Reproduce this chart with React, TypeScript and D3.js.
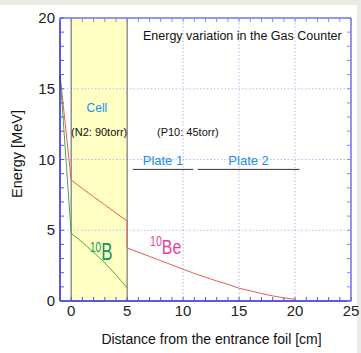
import React from 'react';
import * as d3 from 'd3';

// distance [cm] and energy [MeV]
const beDistance = [-1, 0, 1, 2, 3, 4, 5, 5, 6, 7, 8, 9, 10, 11, 12, 13, 14, 15, 16, 17, 18, 19, 20];
const beEnergy = [16, 8.55, 7.95, 7.37, 6.8, 6.22, 5.65, 3.75, 3.45, 3.15, 2.85, 2.55, 2.24, 1.95, 1.68, 1.42, 1.18, 0.9, 0.72, 0.53, 0.36, 0.22, 0.12];
const bDistance = [-1, 0, 1, 2, 3, 4, 5];
const bEnergy = [16, 4.78, 4.15, 3.45, 2.7, 1.85, 0.92];

const xTicks = [0, 5, 10, 15, 20, 25];
const yTicks = [0, 5, 10, 15, 20];
const cellRange = [0, 5];
const plates = [
  { name: 'Plate 1', from: 5.5, to: 10.9 },
  { name: 'Plate 2', from: 11.3, to: 20.4 },
];

const W = 361, H = 353;
const margin = { top: 18, right: 10, bottom: 52, left: 60 };
const font = "'Liberation Sans', Arial, sans-serif";

export default function App() {
  const x = d3.scaleLinear().domain([-1, 25]).range([margin.left, W - margin.right]);
  const y = d3.scaleLinear().domain([0, 20]).range([H - margin.bottom, margin.top]);
  const path = (xs: number[], ys: number[]) =>
    d3.line<number>().x(d => x(xs[d])).y(d => y(ys[d]))(d3.range(xs.length)) || '';

  const x0 = x.range()[0], x1 = x.range()[1], y0 = y.range()[0], y1 = y.range()[1];
  const minorX = d3.range(-1, 26, 1);
  const minorY = d3.range(0, 21, 1);

  return (
    <svg width={W} height={H} style={{ position: 'absolute', left: 0, top: 0, background: '#fff' }} fontFamily={font}>
      <rect x={0} y={0} width={W} height={H} fill="#ebebe5" />
      <rect x={0} y={5} width={W - 4} height={H - 5} fill="#fff" />

      {/* cell */}
      <rect x={x(cellRange[0])} y={y1} width={x(cellRange[1]) - x(cellRange[0])} height={y0 - y1} fill="#ffffc4" />

      {/* grid */}
      {xTicks.filter(t => t > 5 && t < 25).map(t => (
        <line key={'gx' + t} x1={x(t)} x2={x(t)} y1={y0} y2={y1} stroke="#b8b8f4" strokeDasharray="1.5,2" />
      ))}
      {yTicks.filter(t => t > 0 && t < 20).map(t => (
        <line key={'gy' + t} x1={x0} x2={x1} y1={y(t)} y2={y(t)} stroke="#b8b8f4" strokeDasharray="1.5,2" />
      ))}

      {cellRange.map(t => (
        <line key={'c' + t} x1={x(t)} x2={x(t)} y1={y0} y2={y1} stroke="#777" strokeWidth={1.2} />
      ))}

      {/* curves */}
      <path d={path(beDistance, beEnergy)} fill="none" stroke="#ee5a55" strokeWidth={1} />
      <path d={path(bDistance, bEnergy)} fill="none" stroke="#4aa84a" strokeWidth={1} />

      {/* frame and ticks */}
      <line x1={x0} x2={x1} y1={y1} y2={y1} stroke="#7070ee" strokeWidth={1.5} />
      <line x1={x1} x2={x1} y1={y0} y2={y1} stroke="#7070ee" strokeWidth={1.5} />
      <line x1={x0} x2={x0} y1={y0} y2={y1} stroke="#2222dd" strokeWidth={1.5} />
      <line x1={x0} x2={x1} y1={y0} y2={y0} stroke="#2222dd" strokeWidth={1.5} />
      {minorX.map(t => (
        <g key={'tx' + t}>
          <line x1={x(t)} x2={x(t)} y1={y0} y2={y0 - 4} stroke="#5555e0" />
          <line x1={x(t)} x2={x(t)} y1={y1} y2={y1 + 4} stroke="#8888f0" />
        </g>
      ))}
      {minorY.map(t => (
        <g key={'ty' + t}>
          <line x1={x0} x2={x0 + 4} y1={y(t)} y2={y(t)} stroke="#5555e0" />
          <line x1={x1} x2={x1 - 4} y1={y(t)} y2={y(t)} stroke="#8888f0" />
        </g>
      ))}

      {/* tick labels */}
      {xTicks.map(t => (
        <text key={'lx' + t} x={x(t)} y={y0 + 15} textAnchor="middle" fontSize={15} fill="#222">{t}</text>
      ))}
      {yTicks.map(t => (
        <text key={'ly' + t} x={x0 - 5} y={y(t) + 5} textAnchor="end" fontSize={15} fill="#222">{t}</text>
      ))}

      {/* axis titles */}
      <text x={(x0 + x1) / 2 + 6} y={344} textAnchor="middle" fontSize={14} fill="#111">Distance from the entrance foil [cm]</text>
      <text transform="translate(22,154) rotate(-90)" textAnchor="middle" fontSize={14.5} fill="#111">Energy [MeV]</text>

      {/* annotations */}
      <text x={143} y={40} fontSize={12.5} fill="#111">Energy variation in the Gas Counter</text>
      <text x={x(2.3)} y={112} textAnchor="middle" fontSize={12} fill="#2090f0">Cell</text>
      <text x={x(2.5)} y={136} textAnchor="middle" fontSize={11} fill="#111">(N2: 90torr)</text>
      <text x={157} y={136} fontSize={11} fill="#111">(P10: 45torr)</text>
      {plates.map(p => (
        <g key={p.name}>
          <line x1={x(p.from)} x2={x(p.to)} y1={y(9.3)} y2={y(9.3)} stroke="#333" strokeWidth={1} />
          <text x={x((p.from + p.to) / 2)} y={y(9.3) - 4} textAnchor="middle" fontSize={13} fill="#2090f0">{p.name}</text>
        </g>
      ))}
      <g transform="translate(90,260) scale(0.72,1)" fill="#10985a">
        <text>
          <tspan fontSize={14} dy={-8}>10</tspan>
          <tspan fontSize={23.5} dy={8}>B</tspan>
        </text>
      </g>
      <g transform="translate(150,254) scale(0.76,1)" fill="#e442a2">
        <text>
          <tspan fontSize={14} dy={-8}>10</tspan>
          <tspan fontSize={21} dy={8}>Be</tspan>
        </text>
      </g>
    </svg>
  );
}
